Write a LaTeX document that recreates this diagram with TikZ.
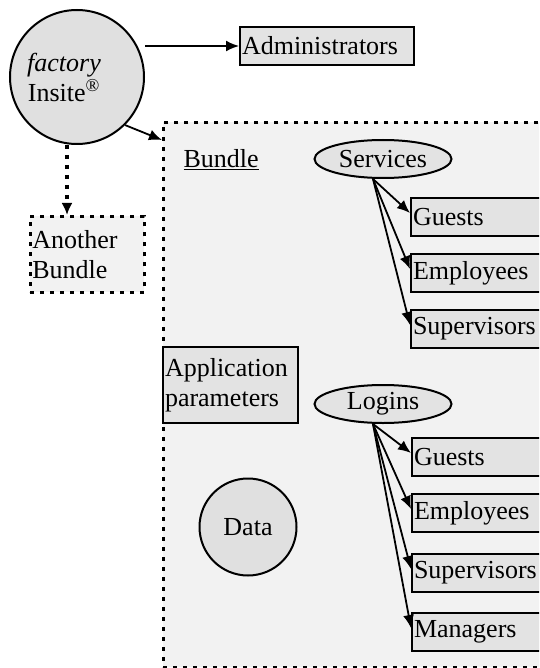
\documentclass[tikz,border=0pt]{standalone}
\usepackage{fontspec}
\setmainfont{Liberation Serif}
\usetikzlibrary{shapes.geometric,arrows.meta}
\definecolor{boxgray}{gray}{0.89}
\definecolor{bggray}{gray}{0.95}
\definecolor{circgray}{gray}{0.88}
\begin{document}
\begin{tikzpicture}[x=1pt,y=-1pt,font=\fontsize{26}{30}\selectfont,
  box/.style={draw, fill=boxgray, line width=2pt, rectangle, inner xsep=2pt, inner ysep=0pt, align=left, anchor=north west, minimum height=38pt},
  kid/.style={box, text width=150pt},
  dashbox/.style={draw, fill=bggray, line width=2.6pt, dash pattern=on 4pt off 6pt, rectangle, anchor=north west, inner sep=0pt},
  circ/.style={draw, fill=circgray, circle, line width=2pt, inner sep=0pt, align=center},
  ell/.style={draw, fill=boxgray, ellipse, line width=2pt, inner sep=0pt, minimum width=137pt, minimum height=38pt},
  arr/.style={-{Latex[length=13pt,width=11pt]}, line width=1.8pt},
  dotarr/.style={-{Latex[length=12pt,width=11pt]}, line width=3.4pt, dash pattern=on 4pt off 6pt}]
\useasboundingbox (0,0) rectangle (539,668);
\clip (0,0) rectangle (539,668);
% bundle background
\node[dashbox, minimum width=420pt, minimum height=545pt] (bundle) at (162,121) {};
\node[anchor=west] (blabel) at (180,160) {\underline{Bundle}};
% factory insite
\node[circ, minimum size=134pt] (fi) at (77,77) {\textit{factory}\hspace*{26pt}\\Insite\textsuperscript{®}\hspace*{26pt}};
\node[box, text width=170pt, minimum height=38pt] (admin) at (239,26) {Administrators};
\draw[arr] (fi.east |- admin) -- (admin.west);
\draw[arr] (fi.south east) -- ([yshift=-19pt]bundle.north west);
% another bundle
\node[dashbox, text width=110pt, minimum height=76pt, align=left, inner xsep=2pt] (ab) at (29,215) {Another\\Bundle};
\draw[dotarr] ([xshift=-10pt]fi.south) -- ([xshift=-10pt]fi.south |- ab.north);
% services
\node[ell] (serv) at (383,159) {Services};
\node[kid] (sg) at (410,197) {Guests};
\node[kid] (se) at (410,253) {Employees};
\node[kid] (ss) at (410,309) {Supervisors};
\foreach \b in {sg,se,ss} \draw[arr] ([xshift=-10pt]serv.south) -- ([yshift=4pt]\b.west);
% application parameters
\node[box, text width=131pt, minimum height=76pt] (app) at (162,346) {Application\\parameters};
% logins
\node[ell] (log) at (383,404) {Logins};
\node[kid] (lg) at (411,437) {Guests};
\node[kid] (le) at (411,493) {Employees};
\node[kid] (ls) at (411,553) {Supervisors};
\node[kid] (lm) at (411,612) {Managers};
\foreach \b in {lg,le,ls,lm} \draw[arr] ([xshift=-10pt]log.south) -- ([yshift=4pt]\b.west);
% data
\node[circ, minimum size=97pt] (data) at (248,527) {Data};
\end{tikzpicture}
\end{document}
